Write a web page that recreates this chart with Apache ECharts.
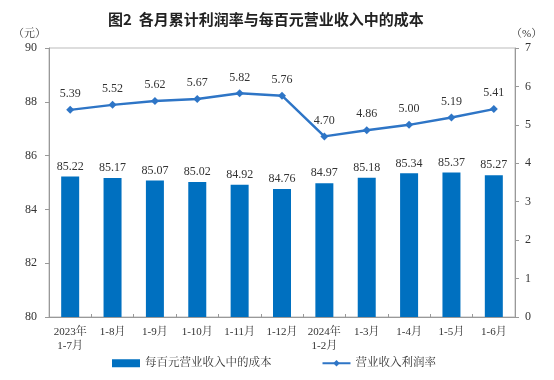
<!DOCTYPE html>
<html><head><meta charset="utf-8">
<script src="https://cdn.jsdelivr.net/npm/echarts@6/dist/echarts.min.js"></script>
<style>html,body{margin:0;padding:0;background:#fff}#c{width:554px;height:380px}</style>
</head><body><div id="c"></div>
<script>
var categories = ['2023年\n1-7月','1-8月','1-9月','1-10月','1-11月','1-12月','2024年\n1-2月','1-3月','1-4月','1-5月','1-6月'];
var costValues = [85.22,85.17,85.07,85.02,84.92,84.76,84.97,85.18,85.34,85.37,85.27];
var profitRate = [5.39,5.52,5.62,5.67,5.82,5.76,4.70,4.86,5.00,5.19,5.41];
var leftTicks = {min:80,max:90,interval:2};
var rightTicks = {min:0,max:7,interval:1};

var serif = '"Liberation Serif","DejaVu Serif","Noto Serif CJK SC","Noto Sans CJK SC",serif';
var chart = echarts.init(document.getElementById('c'));
chart.setOption({
  animation:false,
  title:{text:'图2  各月累计利润率与每百元营业收入中的成本',left:103,top:7,
    textStyle:{fontSize:15,fontWeight:'bold',color:'#222',fontFamily:'"Noto Sans CJK SC",sans-serif'}},
  grid:{left:49,right:39,top:48,bottom:63,show:true,borderColor:'#bbb',borderWidth:1},
  legend:{bottom:6,left:107,itemGap:50,itemWidth:28,itemHeight:8,
    textStyle:{fontSize:11.5,color:'#333',fontFamily:serif},
    data:[{name:'每百元营业收入中的成本',icon:'rect'},{name:'营业收入利润率'}]},
  xAxis:{type:'category',data:categories,
    axisLine:{lineStyle:{color:'#999'}},
    axisTick:{show:true,alignWithLabel:false,length:3,inside:true,lineStyle:{color:'#999'}},
    axisLabel:{color:'#333',fontSize:11,fontFamily:serif,lineHeight:14,interval:0,margin:8}},
  yAxis:[
    {type:'value',min:leftTicks.min,max:leftTicks.max,interval:leftTicks.interval,name:'（元）',
     nameLocation:'end',nameGap:8,nameTextStyle:{color:'#333',fontSize:11,fontFamily:serif,align:'right',padding:[0,3,0,0]},
     axisLine:{show:true,lineStyle:{color:'#999'}},axisTick:{show:true,length:4,lineStyle:{color:'#999'}},
     splitLine:{show:false},axisLabel:{color:'#333',fontSize:12,fontFamily:serif,margin:12}},
    {type:'value',min:rightTicks.min,max:rightTicks.max,interval:rightTicks.interval,name:'（%）',
     nameLocation:'end',nameGap:8,nameTextStyle:{color:'#333',fontSize:11,fontFamily:serif,align:'left',padding:[0,0,0,-4]},
     axisLine:{show:true,lineStyle:{color:'#999'}},axisTick:{show:true,length:4,lineStyle:{color:'#999'}},
     splitLine:{show:false},axisLabel:{color:'#333',fontSize:12,fontFamily:serif,margin:10}}
  ],
  series:[
    {name:'每百元营业收入中的成本',type:'bar',data:costValues,yAxisIndex:0,barWidth:18,
     itemStyle:{color:'#0070C0'},
     label:{show:true,position:'top',distance:4,color:'#333',fontSize:12,fontFamily:serif,formatter:function(p){return p.value.toFixed(2);}}},
    {name:'营业收入利润率',type:'line',data:profitRate,yAxisIndex:1,symbol:'diamond',symbolSize:8,
     lineStyle:{color:'#2E75C6',width:2.5},itemStyle:{color:'#2E75C6'},
     label:{show:true,position:'top',distance:6,color:'#333',fontSize:12,fontFamily:serif,formatter:function(p){return p.value.toFixed(2);}}}
  ]
});
</script></body></html>
